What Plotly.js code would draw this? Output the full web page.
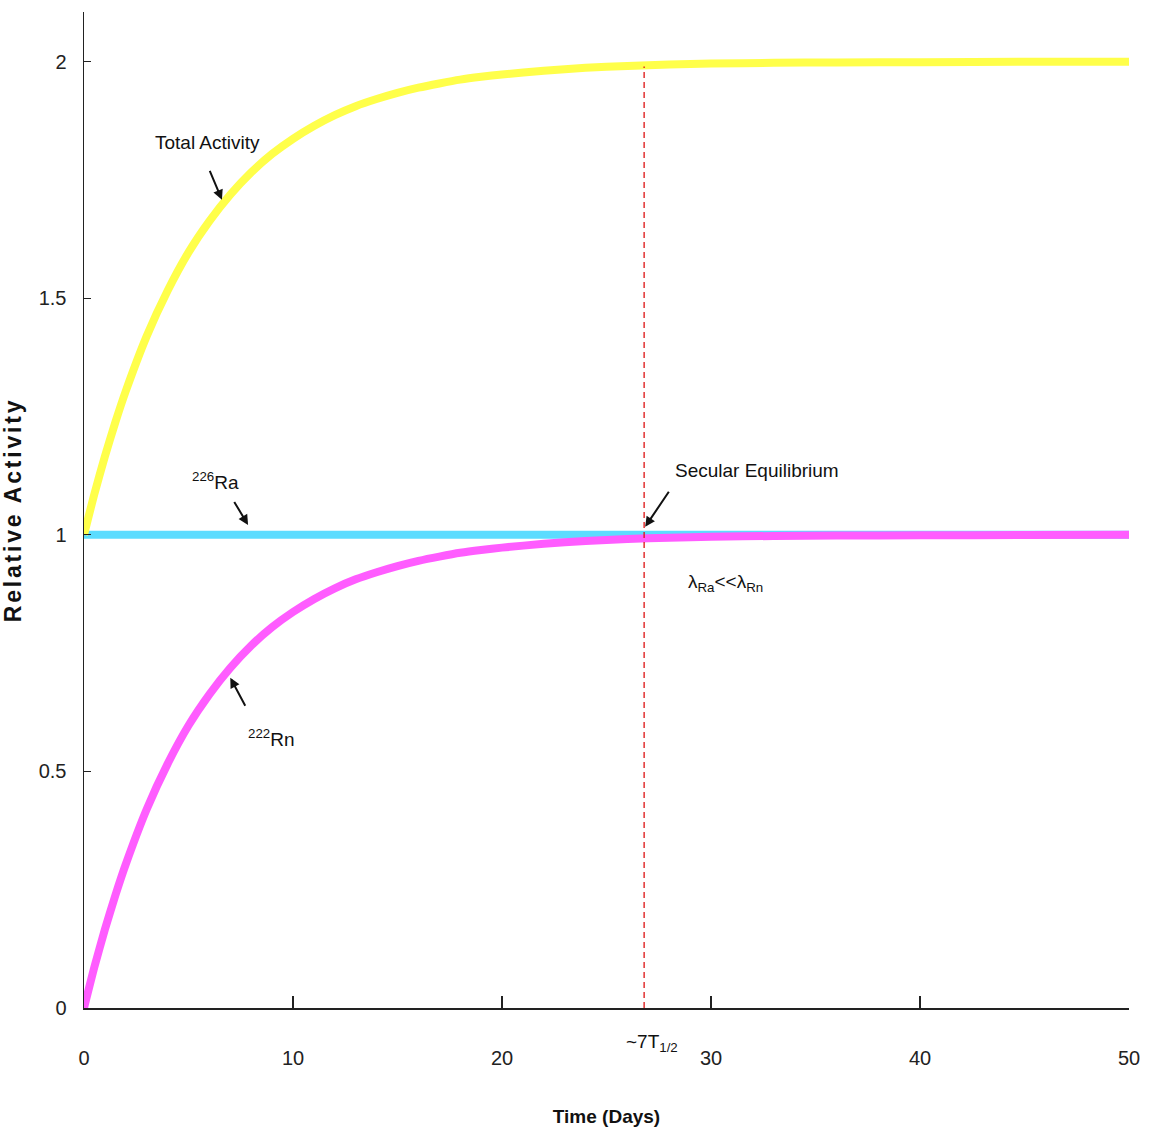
<!DOCTYPE html>
<html>
<head>
<meta charset="utf-8">
<script src="https://cdn.plot.ly/plotly-3.0.1.min.js"></script>
<style>
html,body{margin:0;padding:0;background:#fff;}
#chart{width:1149px;height:1130px;}
.ytitle{letter-spacing:2.8px;}
</style>
</head>
<body>
<div id="chart"></div>
<script>
// Time in days
const timeDays = [0,0.5,1,1.5,2,3,4,5,6,7,8,9,10,11,12,13,14,15,16,17,18,19,20,22,24,26,28,30,33,36,40,45,50];
// 222Rn relative activity
const rnActivity = [0,0.087,0.166,0.238,0.304,0.420,0.516,0.597,0.663,0.719,0.766,0.805,0.837,0.864,0.887,0.906,0.921,0.934,0.945,0.954,0.962,0.968,0.973,0.981,0.987,0.991,0.994,0.996,0.9975,0.9985,0.999,0.9997,1.0];
// Total activity
const totalActivity = [1.0,1.087,1.166,1.238,1.304,1.420,1.516,1.597,1.663,1.719,1.766,1.805,1.837,1.864,1.887,1.906,1.921,1.934,1.945,1.954,1.962,1.968,1.973,1.981,1.987,1.991,1.994,1.996,1.9975,1.9985,1.999,1.9997,2.0];
// 226Ra relative activity
const raTime = [0,50];
const raActivity = [1,1];
// Secular equilibrium marker (~7 half-lives)
const equilibriumTime = 26.8;
const equilibriumLine = [0, 1.99];
const xTicks = [0,10,20,30,40,50];
const yTicks = [0,0.5,1,1.5,2];
const yTickLabels = ['0','0.5','1','1.5','2'];

const sans = '"Liberation Sans", Arial, sans-serif';

const traces = [
  {x: raTime, y: raActivity, mode: 'lines', line: {color: '#5cdcff', width: 8}, hoverinfo: 'skip'},
  {x: timeDays, y: rnActivity, mode: 'lines', line: {color: '#ff5cff', width: 8, shape: 'spline', smoothing: 0.6}, hoverinfo: 'skip'},
  {x: timeDays, y: totalActivity, mode: 'lines', line: {color: '#ffff4a', width: 8, shape: 'spline', smoothing: 0.6}, hoverinfo: 'skip'},
  {x: [equilibriumTime, equilibriumTime], y: equilibriumLine, mode: 'lines', line: {color: '#dd1111', width: 1.3, dash: '6px,4px'}, hoverinfo: 'skip'}
];

const annFont = {family: sans, size: 19, color: '#111'};
const arrowCommon = {showarrow: true, arrowhead: 2, arrowsize: 1, arrowwidth: 2, arrowcolor: '#111', standoff: 0, startstandoff: 0, text: ' ', font: {size: 1}};

const layout = {
  width: 1149, height: 1130,
  margin: {l: 84, r: 20, t: 12, b: 122},
  paper_bgcolor: '#fff', plot_bgcolor: '#fff',
  showlegend: false,
  xaxis: {
    range: [0, 50], tickvals: xTicks, ticks: 'inside', ticklen: 12, tickcolor: '#222', tickwidth: 1.3,
    showline: true, linecolor: '#222', linewidth: 1.5, showgrid: false, zeroline: false,
    ticklabelstandoff: 31,
    tickfont: {family: sans, size: 20, color: '#222'},
    title: {text: '<b>Time (Days)</b>', font: {family: sans, size: 19, color: '#111'}, standoff: 42}
  },
  yaxis: {
    range: [0, 2.105], tickvals: yTicks, ticktext: yTickLabels, ticks: 'inside', ticklen: 7, tickcolor: '#222', tickwidth: 1.3,
    showline: true, linecolor: '#222', linewidth: 1.5, showgrid: false, zeroline: false,
    ticklabelstandoff: 12,
    tickfont: {family: sans, size: 20, color: '#222'},
    title: {text: '<b>Relative Activity</b>', font: {family: sans, size: 23, color: '#111'}, standoff: 18}
  },
  annotations: [
    {x: 5.9, y: 1.829, xref: 'x', yref: 'y', text: 'Total Activity', showarrow: false, font: annFont, xanchor: 'center', yanchor: 'middle'},
    Object.assign({x: 6.6, y: 1.708, xref: 'x', yref: 'y', ax: -13, ay: -31}, arrowCommon),
    {x: 6.3, y: 1.114, xref: 'x', yref: 'y', text: '<sup>226</sup>Ra', showarrow: false, font: annFont, xanchor: 'center', yanchor: 'middle'},
    Object.assign({x: 7.85, y: 1.021, xref: 'x', yref: 'y', ax: -15, ay: -25}, arrowCommon),
    {x: 8.95, y: 0.57, xref: 'x', yref: 'y', text: '<sup>222</sup>Rn', showarrow: false, font: annFont, xanchor: 'center', yanchor: 'middle'},
    Object.assign({x: 7.0, y: 0.698, xref: 'x', yref: 'y', ax: 16, ay: 30}, arrowCommon),
    {x: 32.2, y: 1.135, xref: 'x', yref: 'y', text: 'Secular Equilibrium', showarrow: false, font: annFont, xanchor: 'center', yanchor: 'middle'},
    Object.assign({x: 26.85, y: 1.017, xref: 'x', yref: 'y', ax: 25, ay: -37}, arrowCommon),
    {x: 30.7, y: 0.898, xref: 'x', yref: 'y', text: 'λ<sub>Ra</sub><<λ<sub>Rn</sub>', showarrow: false, font: annFont, xanchor: 'center', yanchor: 'middle'},
    {x: 27.2, y: 0, xref: 'x', yref: 'paper', yshift: -35, text: '~7T<sub>1/2</sub>', showarrow: false, font: annFont, xanchor: 'center', yanchor: 'middle'}
  ]
};

Plotly.newPlot('chart', traces, layout, {staticPlot: true, displayModeBar: false});
</script>
</body>
</html>
